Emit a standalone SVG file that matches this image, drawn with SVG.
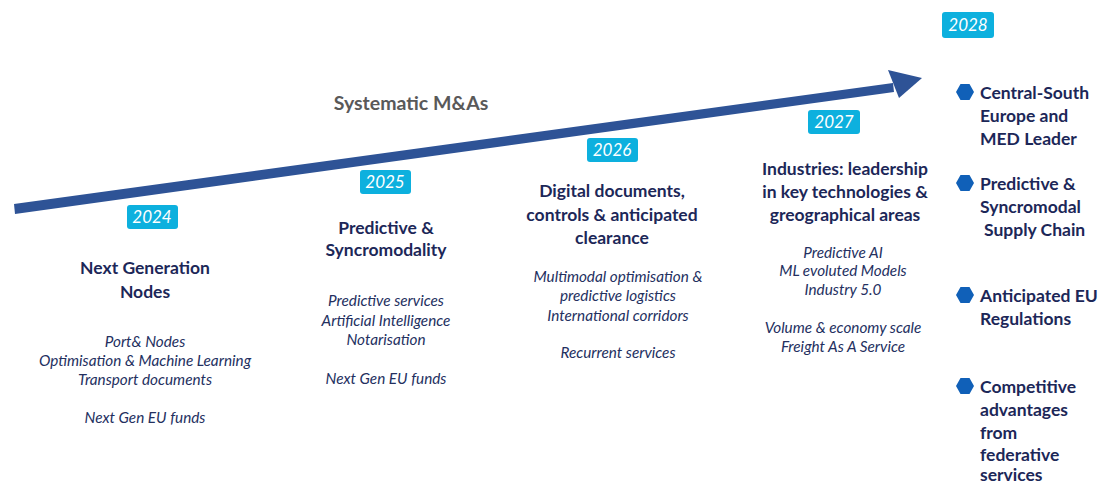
<svg xmlns="http://www.w3.org/2000/svg" width="1099" height="484" viewBox="0 0 1099 484">
<style>
.bg{fill:#ffffff}
.yr rect{fill:#0DB0DE}
.yr text{font-family:Lato,"Open Sans",sans-serif;font-style:italic;font-size:17px;fill:#ffffff;text-anchor:middle}
.h{font-family:Lato,"Open Sans",sans-serif;font-weight:bold;font-size:17.5px;fill:#1C2758;text-anchor:middle}
.i{font-family:Lato,"Open Sans",sans-serif;font-style:italic;font-size:15.3px;fill:#24305F;text-anchor:middle}
.r{font-family:Lato,"Open Sans",sans-serif;font-weight:bold;font-size:17.5px;fill:#1C2758}
.b{fill:#1060B8}
.t{font-family:Lato,"Open Sans",sans-serif;font-weight:bold;font-size:19.5px;fill:#595959;text-anchor:middle}
</style>
<defs>
<polygon id="hex" points="-9,0 -4.5,-8 4.5,-8 9,0 4.5,8 -4.5,8"/>
</defs>
<rect class="bg" x="0" y="0" width="1099" height="484"/>
<g id="connectors">
<polygon fill="#2E5396" points="14,204 893,83 894,92 15,214"/>
<polygon fill="#2E5396" points="888,70 922,78 899,98"/>
</g>
<g id="title"><text class="t" x="411" y="110">Systematic M&amp;As</text></g>
<g id="y2024" class="yr"><rect x="127" y="205" width="51" height="24" rx="3"/><text x="152" y="223">2024</text></g>
<g id="y2025" class="yr"><rect x="360" y="170" width="51" height="24" rx="3"/><text x="385" y="188">2025</text></g>
<g id="y2026" class="yr"><rect x="587" y="138" width="51" height="24" rx="3"/><text x="612" y="156">2026</text></g>
<g id="y2027" class="yr"><rect x="808" y="110" width="52" height="24" rx="3"/><text x="834" y="128">2027</text></g>
<g id="y2028" class="yr"><rect x="942" y="12" width="52" height="26" rx="3"/><text x="968" y="31">2028</text></g>
<g id="col2024">
<text class="h" x="145" y="274">Next Generation</text>
<text class="h" x="145" y="298">Nodes</text>
<text class="i" x="145" y="347">Port&amp; Nodes</text>
<text class="i" x="145" y="366">Optimisation &amp; Machine Learning</text>
<text class="i" x="145" y="385">Transport documents</text>
<text class="i" x="145" y="423">Next Gen EU funds</text>
</g>
<g id="col2025">
<text class="h" x="386" y="234">Predictive &amp;</text>
<text class="h" x="386" y="256">Syncromodality</text>
<text class="i" x="386" y="306">Predictive services</text>
<text class="i" x="386" y="326">Artificial Intelligence</text>
<text class="i" x="386" y="345">Notarisation</text>
<text class="i" x="386" y="384">Next Gen EU funds</text>
</g>
<g id="col2026">
<text class="h" x="612" y="197">Digital documents,</text>
<text class="h" x="612" y="221">controls &amp; anticipated</text>
<text class="h" x="612" y="244">clearance</text>
<text class="i" x="618" y="282">Multimodal optimisation &amp;</text>
<text class="i" x="618" y="301">predictive logistics</text>
<text class="i" x="618" y="321">International corridors</text>
<text class="i" x="618" y="358">Recurrent services</text>
</g>
<g id="col2027">
<text class="h" x="845" y="175">Industries: leadership</text>
<text class="h" x="845" y="198">in key technologies &amp;</text>
<text class="h" x="845" y="221">greographical areas</text>
<text class="i" x="843" y="258">Predictive AI</text>
<text class="i" x="843" y="276">ML evoluted Models</text>
<text class="i" x="843" y="295">Industry 5.0</text>
<text class="i" x="843" y="333">Volume &amp; economy scale</text>
<text class="i" x="843" y="352">Freight As A Service</text>
</g>
<g id="goal1">
<use href="#hex" class="b" x="965" y="92"/>
<text class="r" x="980" y="99">Central-South</text>
<text class="r" x="980" y="122">Europe and</text>
<text class="r" x="980" y="145">MED Leader</text>
</g>
<g id="goal2">
<use href="#hex" class="b" x="965" y="183"/>
<text class="r" x="980" y="190">Predictive &amp;</text>
<text class="r" x="980" y="213">Syncromodal</text>
<text class="r" x="984" y="236">Supply Chain</text>
</g>
<g id="goal3">
<use href="#hex" class="b" x="965" y="295"/>
<text class="r" x="980" y="302">Anticipated EU</text>
<text class="r" x="980" y="325">Regulations</text>
</g>
<g id="goal4">
<use href="#hex" class="b" x="965" y="386"/>
<text class="r" x="980" y="393">Competitive</text>
<text class="r" x="980" y="416">advantages</text>
<text class="r" x="980" y="439">from</text>
<text class="r" x="980" y="461">federative</text>
<text class="r" x="980" y="481">services</text>
</g>
</svg>
